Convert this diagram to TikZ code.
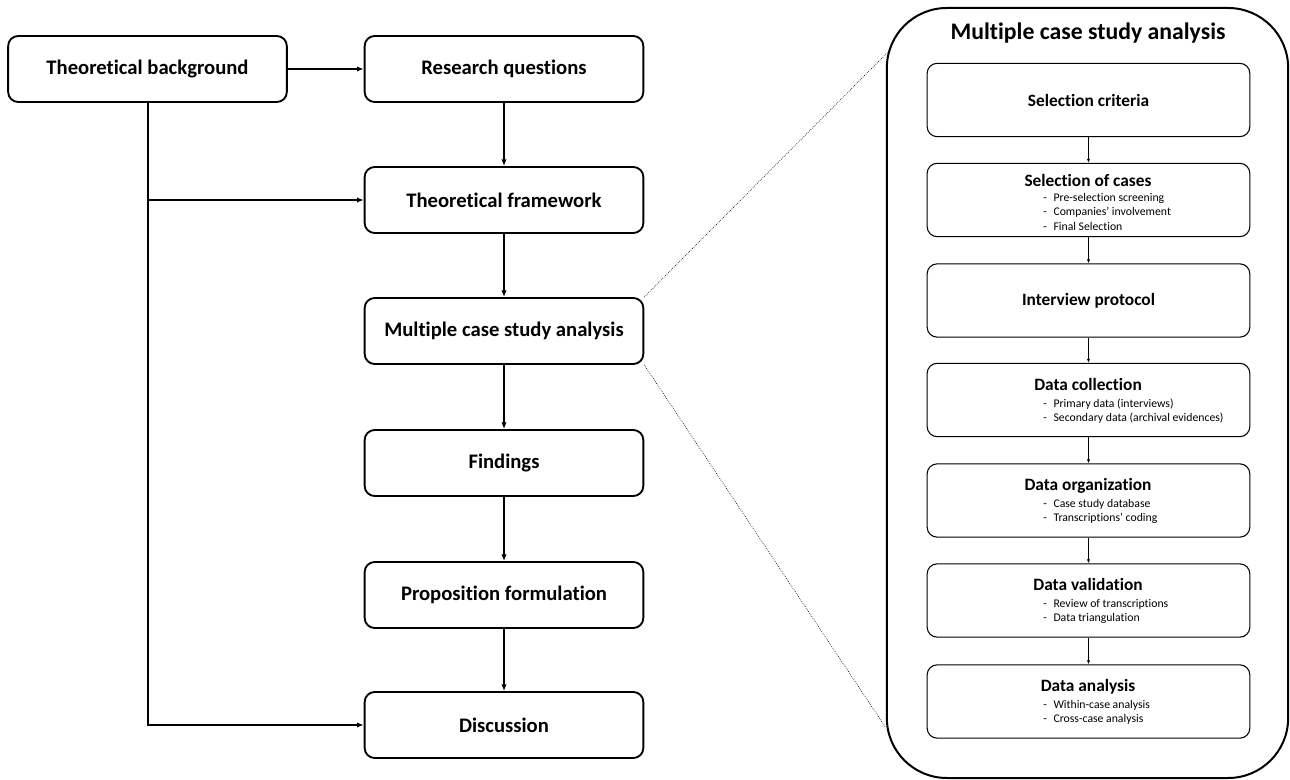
\documentclass[tikz,border=0pt]{standalone}
\usepackage{fontspec}
\setmainfont{Carlito}[Ligatures=NoCommon]
\usetikzlibrary{arrows.meta}
\begin{document}
\begin{tikzpicture}[x=0.75pt,y=-0.75pt,
        stage/.style={draw,line width=1.4pt,rounded corners=7.5pt,minimum width=209pt,minimum height=49.5pt,font=\bfseries\fontsize{15.5}{18}\selectfont},
        flow/.style={line width=1.5pt,-{Latex[length=5pt,width=4pt]}},
        panel/.style={draw,line width=1.5pt,rounded corners=45pt,minimum width=301pt,minimum height=577.5pt},
        substage/.style={draw,line width=0.8pt,rounded corners=7.5pt,minimum width=242pt,minimum height=55pt,font=\bfseries\fontsize{13}{15}\selectfont},
        subhead/.style={inner sep=0pt,text height=9pt,text depth=2.5pt,font=\bfseries\fontsize{13}{15}\selectfont},
        subitems/.style={anchor=north west,align=left,inner sep=0pt,font=\fontsize{8.8}{10.8}\selectfont},
        subflow/.style={line width=0.6pt,-{Latex[length=3pt,width=2.5pt]}},
        zoomline/.style={densely dotted,line width=0.5pt}]
            \useasboundingbox (0,0) rectangle (1290,780);
            \node[stage] (background) at (147.5,69) {Theoretical background};
            \node[stage] (questions) at (504,69) {Research questions};
            \node[stage] (framework) at (504,200) {Theoretical framework};
            \node[stage] (casestudy) at (504,331) {Multiple case study analysis};
            \node[stage] (findings) at (504,463) {Findings};
            \node[stage] (proposition) at (504,595) {Proposition formulation};
            \node[stage] (discussion) at (504,725) {Discussion};
            \draw[flow] (background) -- (questions);
            \draw[flow] (questions) -- (framework);
            \draw[flow] (framework) -- (casestudy);
            \draw[flow] (casestudy) -- (findings);
            \draw[flow] (findings) -- (proposition);
            \draw[flow] (proposition) -- (discussion);
            \draw[flow] (background.south |- framework.west) -- (framework.west);
            \draw[flow] (background.south) |- (discussion.west);
            \node[panel] (panel) at (1087.5,393) {};
            \node[font=\bfseries\fontsize{17.8}{20}\selectfont] (paneltitle) at (1088,33) {Multiple case study analysis};
            \node[substage] (criteria) at (1088.5,100) {Selection criteria};
            \node[substage] (cases) at (1088.5,200) {};
            \node[subhead] (cases-head) at (1088,182) {Selection of cases};
            \node[subitems] (cases-list) at (1043,193) {-\hspace{5pt}Pre-selection screening\\-\hspace{5pt}Companies' involvement\\-\hspace{5pt}Final Selection};
            \node[substage] (protocol) at (1088.5,300.5) {Interview protocol};
            \node[substage] (collection) at (1088.5,400) {};
            \node[subhead] (collection-head) at (1088,386) {Data collection};
            \node[subitems] (collection-list) at (1043,398.5) {-\hspace{5pt}Primary data (interviews)\\-\hspace{5pt}Secondary data (archival evidences)};
            \node[substage] (organization) at (1088.5,500.5) {};
            \node[subhead] (organization-head) at (1088,486.5) {Data organization};
            \node[subitems] (organization-list) at (1043,499) {-\hspace{5pt}Case study database\\-\hspace{5pt}Transcriptions' coding};
            \node[substage] (validation) at (1088.5,600.5) {};
            \node[subhead] (validation-head) at (1088,586.5) {Data validation};
            \node[subitems] (validation-list) at (1043,599) {-\hspace{5pt}Review of transcriptions\\-\hspace{5pt}Data triangulation};
            \node[substage] (analysis) at (1088.5,701.5) {};
            \node[subhead] (analysis-head) at (1088,687.5) {Data analysis};
            \node[subitems] (analysis-list) at (1043,700) {-\hspace{5pt}Within-case analysis\\-\hspace{5pt}Cross-case analysis};
            \draw[subflow] (criteria) -- (cases);
            \draw[subflow] (cases) -- (protocol);
            \draw[subflow] (protocol) -- (collection);
            \draw[subflow] (collection) -- (organization);
            \draw[subflow] (organization) -- (validation);
            \draw[subflow] (validation) -- (analysis);
            \coordinate (zoomtop) at (888,52);
            \coordinate (zoombot) at (886,728);
            \draw[zoomline] (casestudy.north east) -- (zoomtop);
            \draw[zoomline] (casestudy.south east) -- (zoombot);
        \end{tikzpicture}
\end{document}
